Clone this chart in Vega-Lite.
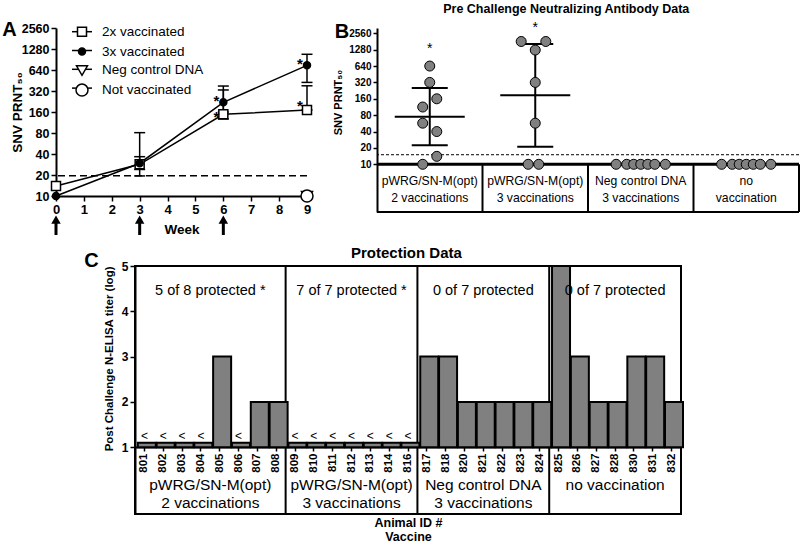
{
 "$schema": "https://vega.github.io/schema/vega-lite/v6.json",
 "background": "white",
 "padding": {"left": 2, "top": 2, "right": 0, "bottom": 0},
 "config": {
  "font": "Liberation Sans",
  "view": {"stroke": null},
  "axis": {"domainColor": "black", "domainWidth": 2, "tickColor": "black", "tickWidth": 1.5, "labelColor": "black", "titleColor": "black", "grid": false, "labelFontWeight": "bold", "titleFontWeight": "bold", "labelFont": "Liberation Sans", "titleFont": "Liberation Sans", "labelFlush": false, "labelOverlap": false},
  "title": {"color": "black", "font": "Liberation Sans", "fontWeight": "bold", "offset": 0},
  "text": {"font": "Liberation Sans", "color": "black"},
  "legend": {"labelFont": "Liberation Sans", "labelColor": "black"}
 },
 "datasets": {
  "a_series": [
   {"week": 0, "series": "2x vaccinated", "titer": 13.9},
   {"week": 3, "series": "2x vaccinated", "titer": 28.5, "low": 19.4, "high": 80.9},
   {"week": 6, "series": "2x vaccinated", "titer": 148, "low": 127, "high": 331},
   {"week": 9, "series": "2x vaccinated", "titer": 171, "low": 171, "high": 380},
   {"week": 0, "series": "3x vaccinated", "titer": 10},
   {"week": 3, "series": "3x vaccinated", "titer": 29.5, "low": 24, "high": 36.6},
   {"week": 6, "series": "3x vaccinated", "titer": 220, "low": 160, "high": 377},
   {"week": 9, "series": "3x vaccinated", "titer": 746, "low": 425, "high": 1075},
   {"week": 9, "series": "Neg control DNA", "titer": 10},
   {"week": 9, "series": "Not vaccinated", "titer": 10}
  ],
  "a_thr": [{"threshold": 19.5}],
  "a_stars": [{"week": 6, "titer": 265}, {"week": 6, "titer": 153}, {"week": 9, "titer": 892}, {"week": 9, "titer": 225}],
  "a_vacc": [{"week": 0}, {"week": 3}, {"week": 6}],
  "b_groups": [{"group": "pWRG/SN-M(opt)\n2 vaccinations"}, {"group": "pWRG/SN-M(opt)\n3 vaccinations"}, {"group": "Neg control DNA\n3 vaccinations"}, {"group": "no\nvaccination"}],
  "b_thr": [{"threshold": 15}],
  "b_stats": [
   {"group": "pWRG/SN-M(opt)\n2 vaccinations", "mean": 75, "lo": 22.5, "hi": 253, "star": 1563},
   {"group": "pWRG/SN-M(opt)\n3 vaccinations", "mean": 185, "lo": 21, "hi": 1630, "star": 3800}
  ],
  "b_points": [
   {"group": "pWRG/SN-M(opt)\n2 vaccinations", "slot": 0, "titer": 640},
   {"group": "pWRG/SN-M(opt)\n2 vaccinations", "slot": 0, "titer": 320},
   {"group": "pWRG/SN-M(opt)\n2 vaccinations", "slot": 2, "titer": 160},
   {"group": "pWRG/SN-M(opt)\n2 vaccinations", "slot": -2, "titer": 113},
   {"group": "pWRG/SN-M(opt)\n2 vaccinations", "slot": -2, "titer": 57},
   {"group": "pWRG/SN-M(opt)\n2 vaccinations", "slot": 2, "titer": 40},
   {"group": "pWRG/SN-M(opt)\n2 vaccinations", "slot": 2, "titer": 14},
   {"group": "pWRG/SN-M(opt)\n2 vaccinations", "slot": -2, "titer": 10},
   {"group": "pWRG/SN-M(opt)\n3 vaccinations", "slot": -4, "titer": 1810},
   {"group": "pWRG/SN-M(opt)\n3 vaccinations", "slot": 3, "titer": 1810},
   {"group": "pWRG/SN-M(opt)\n3 vaccinations", "slot": 0, "titer": 1260},
   {"group": "pWRG/SN-M(opt)\n3 vaccinations", "slot": 0, "titer": 320},
   {"group": "pWRG/SN-M(opt)\n3 vaccinations", "slot": 0, "titer": 57},
   {"group": "pWRG/SN-M(opt)\n3 vaccinations", "slot": -2, "titer": 10},
   {"group": "pWRG/SN-M(opt)\n3 vaccinations", "slot": 1, "titer": 10},
   {"group": "Neg control DNA\n3 vaccinations", "slot": -7, "titer": 10},
   {"group": "Neg control DNA\n3 vaccinations", "slot": -4, "titer": 10},
   {"group": "Neg control DNA\n3 vaccinations", "slot": -2, "titer": 10},
   {"group": "Neg control DNA\n3 vaccinations", "slot": 0, "titer": 10},
   {"group": "Neg control DNA\n3 vaccinations", "slot": 2, "titer": 10},
   {"group": "Neg control DNA\n3 vaccinations", "slot": 4, "titer": 10},
   {"group": "Neg control DNA\n3 vaccinations", "slot": 7, "titer": 10},
   {"group": "no\nvaccination", "slot": -7, "titer": 10},
   {"group": "no\nvaccination", "slot": -4, "titer": 10},
   {"group": "no\nvaccination", "slot": -2, "titer": 10},
   {"group": "no\nvaccination", "slot": 0, "titer": 10},
   {"group": "no\nvaccination", "slot": 2, "titer": 10},
   {"group": "no\nvaccination", "slot": 4, "titer": 10},
   {"group": "no\nvaccination", "slot": 7, "titer": 10}
  ],
  "c_bars": [
   {"id": "801", "titer": 1.1, "lt": true}, {"id": "802", "titer": 1.1, "lt": true}, {"id": "803", "titer": 1.1, "lt": true}, {"id": "804", "titer": 1.1, "lt": true},
   {"id": "805", "titer": 3, "lt": false}, {"id": "806", "titer": 1.1, "lt": true}, {"id": "807", "titer": 2, "lt": false}, {"id": "808", "titer": 2, "lt": false},
   {"id": "809", "titer": 1.1, "lt": true}, {"id": "810", "titer": 1.1, "lt": true}, {"id": "811", "titer": 1.1, "lt": true}, {"id": "812", "titer": 1.1, "lt": true},
   {"id": "813", "titer": 1.1, "lt": true}, {"id": "814", "titer": 1.1, "lt": true}, {"id": "816", "titer": 1.1, "lt": true},
   {"id": "817", "titer": 3, "lt": false}, {"id": "818", "titer": 3, "lt": false}, {"id": "820", "titer": 2, "lt": false}, {"id": "821", "titer": 2, "lt": false},
   {"id": "822", "titer": 2, "lt": false}, {"id": "823", "titer": 2, "lt": false}, {"id": "824", "titer": 2, "lt": false},
   {"id": "825", "titer": 5, "lt": false}, {"id": "826", "titer": 3, "lt": false}, {"id": "827", "titer": 2, "lt": false}, {"id": "828", "titer": 2, "lt": false},
   {"id": "830", "titer": 3, "lt": false}, {"id": "831", "titer": 3, "lt": false}, {"id": "832", "titer": 2, "lt": false}
  ],
  "c_groups": [
   {"label": "pWRG/SN-M(opt)\n2 vaccinations", "note": "5 of 8 protected *", "first_id": "801", "mid_id": "805", "n": 8},
   {"label": "pWRG/SN-M(opt)\n3 vaccinations", "note": "7 of 7 protected *", "first_id": "809", "mid_id": "812", "n": 7},
   {"label": "Neg control DNA\n3 vaccinations", "note": "0 of 7 protected", "first_id": "817", "mid_id": "821", "n": 7},
   {"label": "no vaccination", "note": "0 of 7 protected", "first_id": "825", "mid_id": "828", "n": 7}
  ]
 },
 "spacing": 8,
 "vconcat": [
  {
   "title": {"text": "Pre Challenge Neutralizing Antibody Data", "anchor": "start", "frame": "bounds", "fontSize": 12.5, "dx": 441, "offset": 5},
   "spacing": 16,
   "hconcat": [
    {
     "width": 251, "height": 168,
     "title": {"text": "A", "anchor": "start", "frame": "bounds", "fontSize": 20, "dx": -8, "dy": 22},
     "layer": [
      {"data": {"name": "a_thr"}, "mark": {"type": "rule", "strokeDash": [7, 4], "strokeWidth": 1.5, "color": "black"},
       "encoding": {"y": {"field": "threshold", "type": "quantitative", "scale": {"type": "log", "domain": [10, 2560], "nice": false}, "axis": {"values": [10, 20, 40, 80, 160, 320, 640, 1280, 2560], "format": "d", "title": "SNV PRNT₅₀", "labelFontSize": 12.5, "titleFontSize": 13.5, "tickSize": 5, "labelPadding": 2, "titlePadding": -3, "labelFlush": false}}}},
      {"data": {"name": "a_series"}, "transform": [{"filter": "isValid(datum.high)"}],
       "mark": {"type": "rule", "strokeWidth": 1.5, "color": "black"},
       "encoding": {
        "x": {"field": "week", "type": "quantitative", "scale": {"domain": [0, 9], "nice": false, "zero": false}, "axis": {"values": [0, 1, 2, 3, 4, 5, 6, 7, 8, 9], "title": "Week", "labelFontSize": 13, "titleFontSize": 13.5, "tickSize": 5, "labelPadding": 2, "titlePadding": 6, "labelFlush": false}},
        "y": {"field": "low", "type": "quantitative", "scale": {"type": "log", "domain": [10, 2560], "nice": false}},
        "y2": {"field": "high"}}},
      {"data": {"name": "a_series"}, "transform": [{"filter": "isValid(datum.high)"}, {"fold": ["low", "high"], "as": ["bound", "bv"]}],
       "mark": {"type": "tick", "orient": "horizontal", "size": 11, "thickness": 1.5, "color": "black", "opacity": 1},
       "encoding": {
        "x": {"field": "week", "type": "quantitative", "scale": {"domain": [0, 9], "nice": false, "zero": false}, "axis": {"values": [0, 1, 2, 3, 4, 5, 6, 7, 8, 9], "title": "Week", "labelFontSize": 13, "titleFontSize": 13.5, "tickSize": 5, "labelPadding": 2, "titlePadding": 6, "labelFlush": false}},
        "y": {"field": "bv", "type": "quantitative", "scale": {"type": "log", "domain": [10, 2560], "nice": false}}}},
      {"data": {"name": "a_series"}, "mark": {"type": "line", "strokeWidth": 1.5},
       "encoding": {
        "x": {"field": "week", "type": "quantitative", "scale": {"domain": [0, 9], "nice": false, "zero": false}, "axis": {"values": [0, 1, 2, 3, 4, 5, 6, 7, 8, 9], "title": "Week", "labelFontSize": 13, "titleFontSize": 13.5, "tickSize": 5, "labelPadding": 2, "titlePadding": 6, "labelFlush": false}},
        "y": {"field": "titer", "type": "quantitative", "scale": {"type": "log", "domain": [10, 2560], "nice": false}},
        "color": {"field": "series", "type": "nominal", "scale": {"range": ["black", "black", "black", "black"]},
         "legend": {"orient": "none", "legendX": 15, "legendY": -7.3, "title": null, "symbolType": "stroke", "symbolSize": 400, "symbolStrokeWidth": 1.5, "labelExpr": "''", "labelFontSize": 13.5, "labelOffset": 9, "rowPadding": 0.8, "padding": 0}}}},
      {"data": {"name": "a_series"}, "mark": {"type": "point", "size": 400, "filled": true, "strokeWidth": 1.5, "opacity": 1},
       "encoding": {
        "x": {"field": "week", "type": "quantitative", "scale": {"domain": [0, 9], "nice": false, "zero": false}, "axis": {"values": [0, 1, 2, 3, 4, 5, 6, 7, 8, 9], "title": "Week", "labelFontSize": 13, "titleFontSize": 13.5, "tickSize": 5, "labelPadding": 2, "titlePadding": 6, "labelFlush": false}},
        "y": {"field": "titer", "type": "quantitative", "scale": {"type": "log", "domain": [10, 2560], "nice": false}},
        "shape": {"field": "series", "type": "nominal",
         "scale": {"domain": ["2x vaccinated", "3x vaccinated", "Neg control DNA", "Not vaccinated"], "range": ["M-0.45,-0.45H0.45V0.45H-0.45Z", "M-0.35,0A0.35,0.35,0,1,1,0.35,0A0.35,0.35,0,1,1,-0.35,0Z", "M-0.55,-0.45H0.55L0,0.5Z", "M-0.6,0A0.6,0.6,0,1,1,0.6,0A0.6,0.6,0,1,1,-0.6,0Z"]},
         "legend": {"orient": "none", "legendX": 15, "legendY": -7.3, "title": null, "symbolSize": 400, "symbolStrokeWidth": 1.5, "labelFontSize": 13.5, "labelOffset": 9, "rowPadding": 0.8, "padding": 0}},
        "fill": {"field": "series", "type": "nominal",
         "scale": {"domain": ["2x vaccinated", "3x vaccinated", "Neg control DNA", "Not vaccinated"], "range": ["white", "black", "white", "white"]},
         "legend": {"orient": "none", "legendX": 15, "legendY": -7.3, "title": null, "symbolSize": 400, "symbolStrokeWidth": 1.5, "labelFontSize": 13.5, "labelOffset": 9, "rowPadding": 0.8, "padding": 0}},
        "stroke": {"field": "series", "type": "nominal",
         "scale": {"domain": ["2x vaccinated", "3x vaccinated", "Neg control DNA", "Not vaccinated"], "range": ["black", "black", "black", "black"]},
         "legend": {"orient": "none", "legendX": 15, "legendY": -7.3, "title": null, "symbolSize": 400, "symbolStrokeWidth": 1.5, "labelFontSize": 13.5, "labelOffset": 9, "rowPadding": 0.8, "padding": 0}}}},
      {"data": {"name": "a_stars"}, "mark": {"type": "text", "text": "*", "fontSize": 15, "fontWeight": "bold", "dx": -7, "dy": 4},
       "encoding": {
        "x": {"field": "week", "type": "quantitative", "scale": {"domain": [0, 9], "nice": false, "zero": false}, "axis": {"values": [0, 1, 2, 3, 4, 5, 6, 7, 8, 9], "title": "Week", "labelFontSize": 13, "titleFontSize": 13.5, "tickSize": 5, "labelPadding": 2, "titlePadding": 6, "labelFlush": false}},
        "y": {"field": "titer", "type": "quantitative", "scale": {"type": "log", "domain": [10, 2560], "nice": false}}}},
      {"data": {"name": "a_vacc"}, "mark": {"type": "rule", "strokeWidth": 3, "color": "black"},
       "encoding": {
        "x": {"field": "week", "type": "quantitative", "scale": {"domain": [0, 9], "nice": false, "zero": false}, "axis": {"values": [0, 1, 2, 3, 4, 5, 6, 7, 8, 9], "title": "Week", "labelFontSize": 13, "titleFontSize": 13.5, "tickSize": 5, "labelPadding": 2, "titlePadding": 6, "labelFlush": false}},
        "y": {"datum": 2.76, "type": "quantitative", "scale": {"type": "log", "domain": [10, 2560], "nice": false}},
        "y2": {"datum": 4.2}}},
      {"data": {"name": "a_vacc"}, "mark": {"type": "point", "shape": "triangle-up", "size": 90, "filled": true, "color": "black", "opacity": 1},
       "encoding": {
        "x": {"field": "week", "type": "quantitative", "scale": {"domain": [0, 9], "nice": false, "zero": false}, "axis": {"values": [0, 1, 2, 3, 4, 5, 6, 7, 8, 9], "title": "Week", "labelFontSize": 13, "titleFontSize": 13.5, "tickSize": 5, "labelPadding": 2, "titlePadding": 6, "labelFlush": false}},
        "y": {"datum": 4.6, "type": "quantitative", "scale": {"type": "log", "domain": [10, 2560], "nice": false}}}}
     ]
    },
    {
     "width": 422, "height": 184,
     "title": {"text": "B", "anchor": "start", "frame": "bounds", "fontSize": 20, "dx": 2, "dy": 25},
     "layer": [
      {"data": {"name": "b_thr"}, "mark": {"type": "rule", "strokeDash": [3, 2], "strokeWidth": 1, "color": "black"},
       "encoding": {"y": {"field": "threshold", "type": "quantitative", "scale": {"type": "log", "domain": [1.328, 3204], "nice": false}, "axis": {"values": [10, 20, 40, 80, 160, 320, 640, 1280, 2560], "format": "d", "title": "SNV PRNT₅₀", "labelFontSize": 10, "titleFontSize": 11, "tickSize": 4, "labelPadding": 2, "titlePadding": 5, "titleY": 74, "labelFlush": false}}}},
      {"data": {"name": "b_thr"}, "mark": {"type": "rule", "strokeWidth": 3, "color": "black"},
       "encoding": {"y": {"datum": 10, "type": "quantitative", "scale": {"type": "log", "domain": [1.328, 3204], "nice": false}}}},
      {"data": {"name": "b_thr"}, "mark": {"type": "rule", "strokeWidth": 2, "color": "black"},
       "encoding": {"y": {"datum": 1.328, "type": "quantitative", "scale": {"type": "log", "domain": [1.328, 3204], "nice": false}}}},
      {"data": {"name": "b_groups"}, "mark": {"type": "rule", "strokeWidth": 2, "color": "black"},
       "encoding": {
        "x": {"field": "group", "type": "nominal", "bandPosition": 1, "scale": {"type": "band", "domain": ["pWRG/SN-M(opt)\n2 vaccinations", "pWRG/SN-M(opt)\n3 vaccinations", "Neg control DNA\n3 vaccinations", "no\nvaccination"], "paddingInner": 0, "paddingOuter": 0}, "axis": null},
        "y": {"datum": 1.328, "type": "quantitative", "scale": {"type": "log", "domain": [1.328, 3204], "nice": false}},
        "y2": {"datum": 10}}},
      {"data": {"name": "b_groups"}, "mark": {"type": "text", "lineBreak": "\n", "fontSize": 12.2, "lineHeight": 17.5, "baseline": "top", "align": "center"},
       "encoding": {
        "x": {"field": "group", "type": "nominal", "scale": {"type": "band", "domain": ["pWRG/SN-M(opt)\n2 vaccinations", "pWRG/SN-M(opt)\n3 vaccinations", "Neg control DNA\n3 vaccinations", "no\nvaccination"], "paddingInner": 0, "paddingOuter": 0}, "axis": null},
        "y": {"datum": 6.4, "type": "quantitative", "scale": {"type": "log", "domain": [1.328, 3204], "nice": false}},
        "text": {"field": "group"}}},
      {"data": {"name": "b_stats"}, "mark": {"type": "rule", "strokeWidth": 2, "color": "black"},
       "encoding": {
        "x": {"field": "group", "type": "nominal", "scale": {"type": "band", "domain": ["pWRG/SN-M(opt)\n2 vaccinations", "pWRG/SN-M(opt)\n3 vaccinations", "Neg control DNA\n3 vaccinations", "no\nvaccination"], "paddingInner": 0, "paddingOuter": 0}, "axis": null},
        "y": {"field": "lo", "type": "quantitative", "scale": {"type": "log", "domain": [1.328, 3204], "nice": false}},
        "y2": {"field": "hi"}}},
      {"data": {"name": "b_stats"}, "transform": [{"fold": ["lo", "hi"], "as": ["bound", "bv"]}],
       "mark": {"type": "tick", "orient": "horizontal", "size": 36, "thickness": 2, "color": "black", "opacity": 1},
       "encoding": {
        "x": {"field": "group", "type": "nominal", "scale": {"type": "band", "domain": ["pWRG/SN-M(opt)\n2 vaccinations", "pWRG/SN-M(opt)\n3 vaccinations", "Neg control DNA\n3 vaccinations", "no\nvaccination"], "paddingInner": 0, "paddingOuter": 0}, "axis": null},
        "y": {"field": "bv", "type": "quantitative", "scale": {"type": "log", "domain": [1.328, 3204], "nice": false}}}},
      {"data": {"name": "b_stats"},
       "mark": {"type": "tick", "orient": "horizontal", "size": 70, "thickness": 2, "color": "black", "opacity": 1},
       "encoding": {
        "x": {"field": "group", "type": "nominal", "scale": {"type": "band", "domain": ["pWRG/SN-M(opt)\n2 vaccinations", "pWRG/SN-M(opt)\n3 vaccinations", "Neg control DNA\n3 vaccinations", "no\nvaccination"], "paddingInner": 0, "paddingOuter": 0}, "axis": null},
        "y": {"field": "mean", "type": "quantitative", "scale": {"type": "log", "domain": [1.328, 3204], "nice": false}}}},
      {"data": {"name": "b_points"},
       "mark": {"type": "point", "size": 100, "filled": true, "fill": "#808080", "stroke": "black", "strokeWidth": 1, "opacity": 1},
       "encoding": {
        "x": {"field": "group", "type": "nominal", "scale": {"type": "band", "domain": ["pWRG/SN-M(opt)\n2 vaccinations", "pWRG/SN-M(opt)\n3 vaccinations", "Neg control DNA\n3 vaccinations", "no\nvaccination"], "paddingInner": 0, "paddingOuter": 0}, "axis": null},
        "xOffset": {"field": "slot", "type": "ordinal", "scale": {"domain": [-15, -14, -13, -12, -11, -10, -9, -8, -7, -6, -5, -4, -3, -2, -1, 0, 1, 2, 3, 4, 5, 6, 7, 8, 9, 10, 11, 12, 13, 14, 15], "paddingInner": 0, "paddingOuter": 0}},
        "y": {"field": "titer", "type": "quantitative", "scale": {"type": "log", "domain": [1.328, 3204], "nice": false}}}},
      {"data": {"name": "b_stats"}, "mark": {"type": "text", "text": "*", "fontSize": 14, "dy": 4},
       "encoding": {
        "x": {"field": "group", "type": "nominal", "scale": {"type": "band", "domain": ["pWRG/SN-M(opt)\n2 vaccinations", "pWRG/SN-M(opt)\n3 vaccinations", "Neg control DNA\n3 vaccinations", "no\nvaccination"], "paddingInner": 0, "paddingOuter": 0}, "axis": null},
        "y": {"field": "star", "type": "quantitative", "scale": {"type": "log", "domain": [1.328, 3204], "nice": false}}}}
     ]
    }
   ]
  },
  {
   "title": {"text": "Protection Data", "anchor": "start", "frame": "bounds", "fontSize": 15, "dx": 295, "offset": -11},
   "spacing": 0,
   "hconcat": [
    {"width": 27, "height": 10, "data": {"values": []}, "mark": "point"},
    {
     "width": 546, "height": 248,
     "view": {"stroke": "black", "strokeWidth": 2},
     "title": {"text": "C", "anchor": "start", "frame": "bounds", "fontSize": 20, "dx": -19, "dy": 14.6},
     "layer": [
      {"data": {"name": "c_groups"}, "mark": {"type": "rule", "strokeWidth": 2, "color": "black"},
       "encoding": {"x": {"field": "first_id", "type": "nominal", "bandPosition": -0.214, "scale": {"type": "band", "domain": ["801","802","803","804","805","806","807","808","809","810","811","812","813","814","816","817","818","820","821","822","823","824","825","826","827","828","830","831","832"], "paddingInner": 0.3, "paddingOuter": 0.15}}}},
      {"data": {"name": "c_bars"}, "mark": {"type": "bar", "fill": "#808080", "stroke": "black", "strokeWidth": 2},
       "encoding": {
        "x": {"field": "id", "type": "nominal", "scale": {"type": "band", "domain": ["801","802","803","804","805","806","807","808","809","810","811","812","813","814","816","817","818","820","821","822","823","824","825","826","827","828","830","831","832"], "paddingInner": 0.3, "paddingOuter": 0.15},
         "axis": {"title": ["Animal ID #", "Vaccine"], "labelAngle": 270, "offset": -67, "labelFontSize": 11.5, "tickSize": 4, "labelPadding": 2, "titlePadding": 44, "titleFontSize": 12.5}},
        "y": {"field": "titer", "type": "quantitative", "scale": {"domain": [-0.475, 5], "nice": false, "zero": false},
         "axis": {"values": [1, 2, 3, 4, 5], "format": "d", "title": "Post Challenge N-ELISA titer (log)", "titleAnchor": "end", "labelFontSize": 12, "titleFontSize": 11.5, "tickSize": 5, "labelPadding": 2, "titlePadding": 7, "labelFlush": false}},
        "y2": {"datum": 1}}},
      {"data": {"name": "c_bars"}, "transform": [{"filter": "datum.lt"}], "mark": {"type": "text", "text": "<", "fontSize": 12, "baseline": "bottom"},
       "encoding": {
        "x": {"field": "id", "type": "nominal"},
        "y": {"field": "titer", "type": "quantitative"}}},
      {"data": {"name": "c_groups"}, "transform": [{"filter": "datum.n == 7"}], "mark": {"type": "text", "fontSize": 14.5, "baseline": "middle"},
       "encoding": {
        "x": {"field": "mid_id", "type": "nominal"},
        "y": {"datum": 4.44, "type": "quantitative"},
        "text": {"field": "note"}}},
      {"data": {"name": "c_groups"}, "transform": [{"filter": "datum.n == 8"}], "mark": {"type": "text", "fontSize": 14.5, "baseline": "middle"},
       "encoding": {
        "x": {"field": "mid_id", "type": "nominal", "bandPosition": -0.214},
        "y": {"datum": 4.44, "type": "quantitative"},
        "text": {"field": "note"}}},
      {"data": {"name": "c_groups"}, "transform": [{"filter": "datum.n == 7"}], "mark": {"type": "text", "fontSize": 15.5, "baseline": "top", "lineBreak": "\n", "lineHeight": 18.3},
       "encoding": {
        "x": {"field": "mid_id", "type": "nominal"},
        "y": {"datum": 0.33, "type": "quantitative"},
        "text": {"field": "label"}}},
      {"data": {"name": "c_groups"}, "transform": [{"filter": "datum.n == 8"}], "mark": {"type": "text", "fontSize": 15.5, "baseline": "top", "lineBreak": "\n", "lineHeight": 18.3},
       "encoding": {
        "x": {"field": "mid_id", "type": "nominal", "bandPosition": -0.214},
        "y": {"datum": 0.33, "type": "quantitative"},
        "text": {"field": "label"}}}
     ]
    }
   ]
  }
 ]
}
